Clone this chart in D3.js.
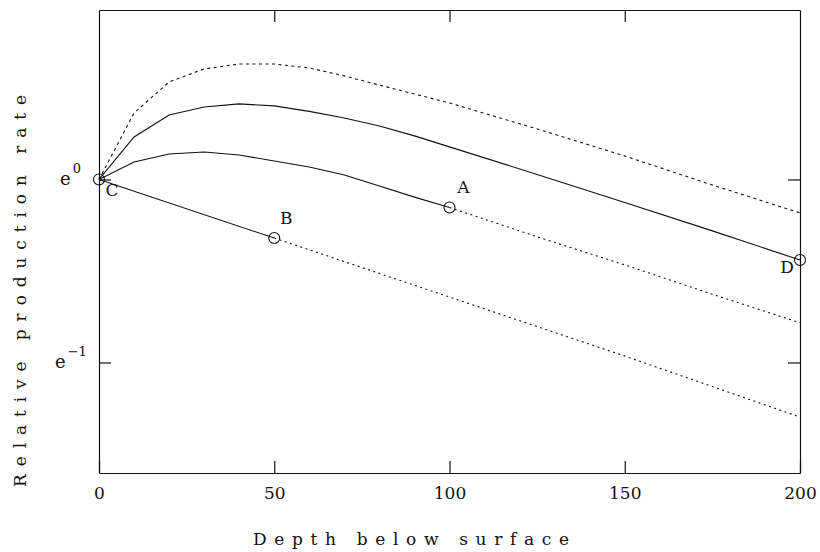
<!DOCTYPE html>
<html>
<head>
<meta charset="utf-8">
<script src="https://cdn.jsdelivr.net/npm/d3@7/dist/d3.min.js"></script>
<style>
  html, body { margin: 0; padding: 0; background: #fff; }
  svg { display: block; }
  text { font-family: "DejaVu Serif", "Liberation Serif", serif; fill: #111; }
</style>
</head>
<body>
<svg id="chart" width="820" height="552"></svg>
<script>
// ---- Data ----
const depths = [0, 10, 20, 30, 40, 50, 60, 70, 80, 90, 100, 125, 150, 175, 200];
// upper dashed curve
const rateUpperDashed = [1, 1.438, 1.704, 1.829, 1.879, 1.879, 1.839, 1.761, 1.675, 1.595, 1.519, 1.318, 1.137, 0.970, 0.833];
// solid curve through D
const rateCurveD = [1, 1.261, 1.422, 1.486, 1.511, 1.495, 1.451, 1.399, 1.339, 1.269, 1.195, 1.028, 0.882, 0.755, 0.644];
// curve through A (solid to A, dashed after)
const rateCurveA = [1, 1.100, 1.149, 1.162, 1.143, 1.106, 1.070, 1.025, 0.965, 0.908, 0.858, 0.731, 0.627, 0.534, 0.457];
// straight line through B (solid to B, dashed after)
const depthsB = [0, 50, 100, 150, 200];
const rateLineB = [1, 0.726, 0.526, 0.381, 0.273];

const solidEndA = 100;
const solidEndB = 50;

const markerLabels = ["C", "B", "A", "D"];
const markerDepths = [0, 50, 100, 200];
const markerRates = [1, 0.726, 0.858, 0.644];

const xTicks = [0, 50, 100, 150, 200];
const yTickExponents = [0, -1];

const xLabel = "Depth below surface";
const yLabel = "Relative production rate";

// ---- Layout ----
const svg = d3.select("#chart");
const mLeft = 99, mRight = 800, mTop = 10, mBottom = 473;

const x = d3.scaleLinear().domain([0, 200]).range([mLeft, mRight]);
const y = d3.scaleLog().base(Math.E)
  .domain([Math.exp(-1.604), Math.exp(0.926)])
  .range([mBottom, mTop]);

const ink = "#111";

// axes (frame with inward ticks)
const yTickVals = yTickExponents.map(e => Math.exp(e));

const gB = svg.append("g").attr("transform", `translate(0,${mBottom})`)
  .call(d3.axisBottom(x).tickValues(xTicks).tickSizeInner(-12).tickSizeOuter(0).tickPadding(14).tickFormat(d3.format("d")));
const gT = svg.append("g").attr("transform", `translate(0,${mTop})`)
  .call(d3.axisTop(x).tickValues(xTicks.slice(1, -1)).tickSizeInner(-12).tickSizeOuter(0).tickFormat(""));
const gL = svg.append("g").attr("transform", `translate(${mLeft},0)`)
  .call(d3.axisLeft(y).tickValues(yTickVals).tickSizeInner(-12).tickSizeOuter(0).tickFormat(""));
const gR = svg.append("g").attr("transform", `translate(${mRight},0)`)
  .call(d3.axisRight(y).tickValues(yTickVals).tickSizeInner(-12).tickSizeOuter(0).tickFormat(""));

[gB, gT, gL, gR].forEach(g => {
  g.selectAll("path.domain").attr("stroke", ink).attr("stroke-width", 1.2);
  g.selectAll(".tick line").attr("stroke", ink).attr("stroke-width", 1.2);
});
gB.selectAll(".tick text")
  .attr("font-family", "DejaVu Serif, Liberation Serif, serif")
  .attr("font-size", 17).attr("fill", ink);

// y tick labels e^n
yTickExponents.forEach(e => {
  const t = svg.append("text")
    .attr("x", e === 0 ? 60 : 55)
    .attr("y", y(Math.exp(e)) + 6)
    .attr("font-size", 18);
  t.append("tspan").text("e");
  t.append("tspan").attr("dy", -12).attr("dx", 2).attr("font-size", 13)
    .text(e === 0 ? "0" : "\u2212" + Math.abs(e));
});

// axis titles
svg.append("text")
  .attr("x", 411).attr("y", 545)
  .attr("text-anchor", "middle")
  .attr("font-size", 17)
  .attr("textLength", 316).attr("lengthAdjust", "spacing")
  .text(xLabel);

svg.append("text")
  .attr("transform", `translate(26,${(95 + 487) / 2}) rotate(-90)`)
  .attr("text-anchor", "middle")
  .attr("font-size", 17)
  .attr("textLength", 392).attr("lengthAdjust", "spacing")
  .text(yLabel);

// ---- Curves ----
const line = d3.line().x(d => x(d[0])).y(d => y(d[1]));
const zip = (xs, ys) => xs.map((v, i) => [v, ys[i]]);

const ptsTop = zip(depths, rateUpperDashed);
const ptsD = zip(depths, rateCurveD);
const ptsA = zip(depths, rateCurveA);
const ptsB = zip(depthsB, rateLineB);

function drawPath(pts, dash, w) {
  svg.append("path").datum(pts)
    .attr("d", line)
    .attr("fill", "none")
    .attr("stroke", ink)
    .attr("stroke-width", w || 1.1)
    .attr("stroke-dasharray", dash || null);
}

drawPath(ptsTop, "3,3.5", 1.1);
drawPath(ptsD, null, 1.1);
drawPath(ptsA.filter(p => p[0] <= solidEndA), null, 1.1);
drawPath(ptsA.filter(p => p[0] >= solidEndA), "2,3.5", 1.1);
drawPath(ptsB.filter(p => p[0] <= solidEndB), null, 1.1);
drawPath(ptsB.filter(p => p[0] >= solidEndB), "2,3.5", 1.1);

// ---- Markers ----
const labelOffsets = { C: [13, 12], B: [12, -19], A: [14, -19], D: [-13, 9] };
markerLabels.forEach((lab, i) => {
  const cx = x(markerDepths[i]), cy = y(markerRates[i]);
  svg.append("circle")
    .attr("cx", cx).attr("cy", cy).attr("r", 5.5)
    .attr("fill", "none").attr("stroke", ink).attr("stroke-width", 1.1);
  const off = labelOffsets[lab];
  svg.append("text")
    .attr("x", cx + off[0]).attr("y", cy + off[1])
    .attr("text-anchor", "middle")
    .attr("dominant-baseline", "middle")
    .attr("font-size", 17)
    .text(lab);
});
</script>
</body>
</html>
